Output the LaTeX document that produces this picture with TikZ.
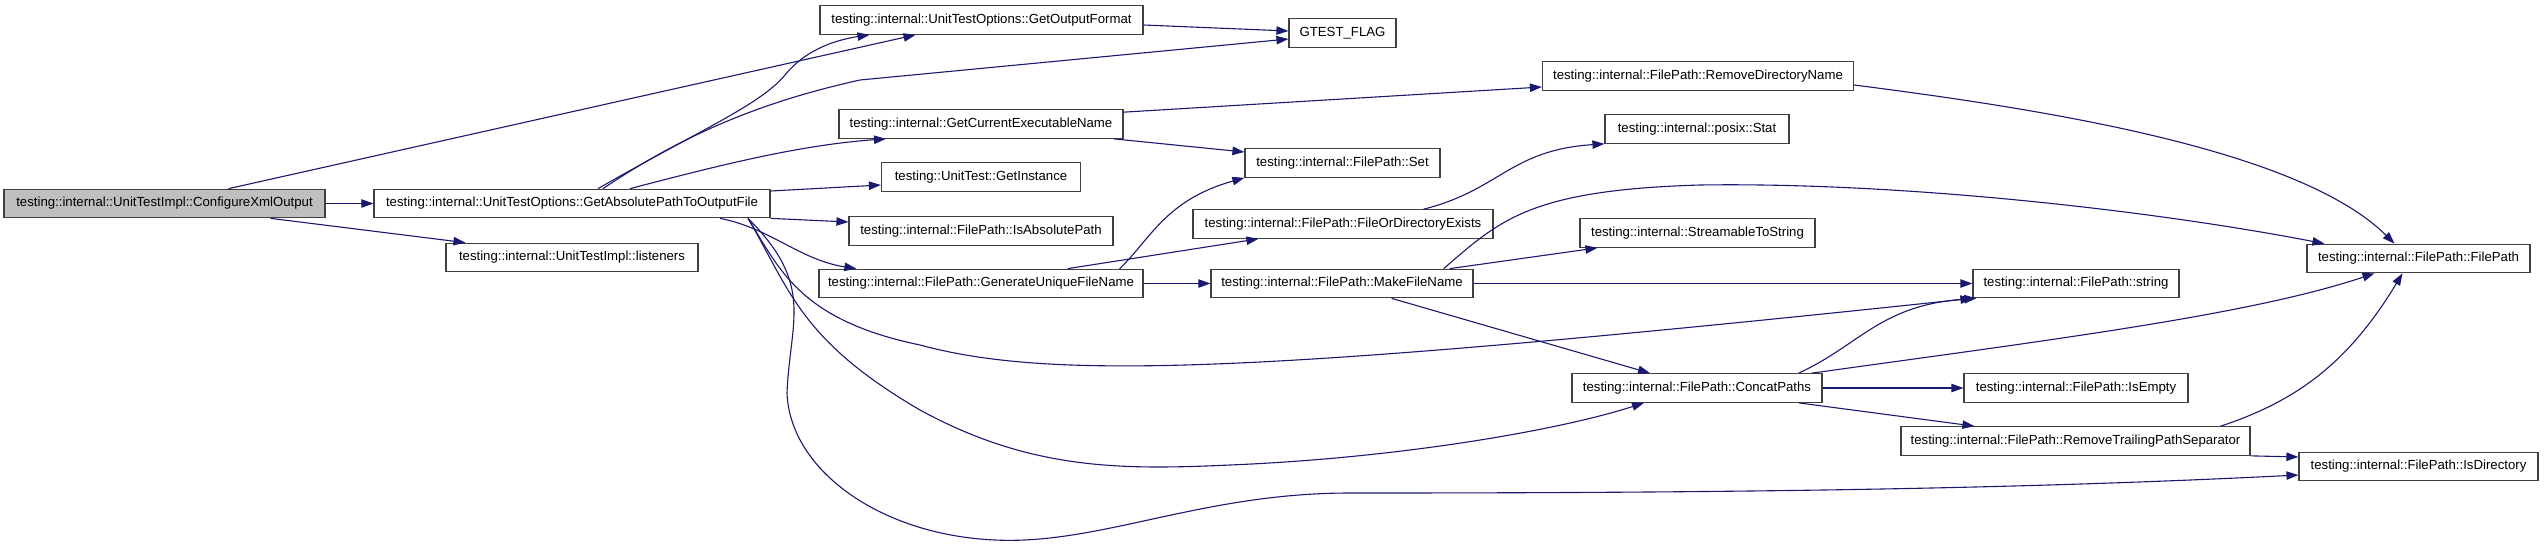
\documentclass[tikz,border=0pt]{standalone}
\usepackage{fontspec}
\setmainfont{Liberation Sans}
\usepackage{xcolor}
\usepackage{tikz}
\usetikzlibrary{arrows.meta}

\definecolor{edgeblue}{HTML}{191970}
\definecolor{rootgray}{HTML}{BFBFBF}

\begin{document}
\begin{tikzpicture}[
  x=0.5pt, y=-0.5pt,
  % Function box styles
  fnbox/.style={
    rectangle,
    draw=black!75,
    fill=white,
    line width=0.6pt,
    minimum width=#1*0.5pt,
    minimum height=14.25pt,
    inner sep=0pt,
    font=\fontsize{6.6pt}{8pt}\selectfont
  },
  rootbox/.style={fnbox=#1, fill=rootgray},
  % Call arrow style
  call/.style={
    ->,
    >={Triangle[length=6pt, width=4.2pt]},
    line width=0.55pt,
    draw=edgeblue
  }
]
\useasboundingbox[fill=white] (0,0) rectangle (2544,547);

% === NODES ===
\node[rootbox=321] (cxo) at (164.5,203.5) {testing::internal::UnitTestImpl::ConfigureXmlOutput};

\node[fnbox=396] (ga) at (572,203.5) {testing::internal::UnitTestOptions::GetAbsolutePathToOutputFile};
\node[fnbox=252] (lis) at (572,257.5) {testing::internal::UnitTestImpl::listeners};

\node[fnbox=323] (gof) at (981.5,20) {testing::internal::UnitTestOptions::GetOutputFormat};
\node[fnbox=284] (gce) at (981,124) {testing::internal::GetCurrentExecutableName};
\node[fnbox=199] (gi) at (981,177) {testing::UnitTest::GetInstance};
\node[fnbox=264] (iap) at (981,231) {testing::internal::FilePath::IsAbsolutePath};
\node[fnbox=324] (gufn) at (981,283.5) {testing::internal::FilePath::GenerateUniqueFileName};

\node[fnbox=107] (gf) at (1342.5,33) {GTEST\_FLAG};
\node[fnbox=195] (fset) at (1342.5,163) {testing::internal::FilePath::Set};
\node[fnbox=300] (fode) at (1343,224) {testing::internal::FilePath::FileOrDirectoryExists};
\node[fnbox=262] (mfn) at (1342,283.5) {testing::internal::FilePath::MakeFileName};

\node[fnbox=311] (rdn) at (1698,76) {testing::internal::FilePath::RemoveDirectoryName};
\node[fnbox=184] (stat) at (1697,129) {testing::internal::posix::Stat};
\node[fnbox=235] (ssts) at (1697.5,233) {testing::internal::StreamableToString};
\node[fnbox=250] (cp) at (1697,388) {testing::internal::FilePath::ConcatPaths};

\node[fnbox=206] (fstr) at (2076,283.5) {testing::internal::FilePath::string};
\node[fnbox=224] (ie) at (2076,388) {testing::internal::FilePath::IsEmpty};
\node[fnbox=349] (rtps) at (2075.5,441) {testing::internal::FilePath::RemoveTrailingPathSeparator};

\node[fnbox=223] (fp) at (2418.5,258.5) {testing::internal::FilePath::FilePath};
\node[fnbox=239] (isd) at (2418.5,466.5) {testing::internal::FilePath::IsDirectory};

% === ARROWS ===
% ConfigureXmlOutput
\draw[call] ([xshift=32pt]cxo.north) -- ([xshift=-33pt]gof.south);
\draw[call] (cxo) -- (ga);
\draw[call] ([xshift=53pt]cxo.south) -- ([xshift=10pt]lis.north west);

% GetAbsolutePathToOutputFile
\draw[call] ([xshift=13pt]ga.north) .. controls (700,130) and (760,105) .. (785,75)
  .. controls (805,50) and (835,40) .. ([xshift=-56pt]gof.south);
\draw[call] ([xshift=15.5pt]ga.north) .. controls (690,130) and (770,100) .. (860,80) -- ([yshift=-3pt]gf.west);
\draw[call] ([xshift=29pt]ga.north) .. controls (720,165) and (800,145) .. ([xshift=-47.5pt]gce.south);
\draw[call] ([yshift=6.25pt]ga.east) -- ([yshift=-4pt]gi.west);
\draw[call] (ga.south east) -- ([yshift=4.5pt]iap.west);
\draw[call] ([xshift=74pt]ga.south) .. controls (770,228) and (800,260) .. ([xshift=19pt]gufn.north west);
\draw[call] ([xshift=88pt]ga.south) .. controls (780,270) and (800,320) .. (920,345)
  .. controls (1050,380) and (1250,375) .. (fstr.south west);
\draw[call] ([xshift=88pt]ga.south) .. controls (790,290) and (800,340) .. (920,410)
  .. controls (1030,470) and (1120,470) .. (1230,465)
  .. controls (1400,458) and (1560,430) .. ([xshift=-26.5pt]cp.south);
\draw[call] ([xshift=88pt]ga.south) .. controls (815,285) and (790,320) .. (787,393)
  .. controls (790,470) and (880,535) .. (995,540)
  .. controls (1100,545) and (1200,493) .. (1350,493)
  .. controls (1700,493) and (2000,490) .. ([yshift=-4.25pt]isd.west);

% GetOutputFormat
\draw[call] ([yshift=-2.5pt]gof.east) -- ([yshift=1pt]gf.west);

% GetCurrentExecutableName
\draw[call] ([yshift=-1.5pt]gce.north east) -- ([yshift=-5.5pt]rdn.west);
\draw[call] ([xshift=-5pt]gce.south east) -- ([yshift=5.5pt]fset.west);

% GenerateUniqueFileName
\draw[call] ([xshift=-12pt]gufn.north east) .. controls (1150,240) and (1165,200) .. (fset.south west);
\draw[call] ([xshift=-38pt]gufn.north east) -- ([xshift=33pt]fode.south west);
\draw[call] (gufn) -- (mfn);

% FileOrDirectoryExists
\draw[call] ([xshift=-35pt]fode.north east) .. controls (1500,190) and (1510,150) .. (stat.south west);

% MakeFileName
\draw[call] ([xshift=-15pt]mfn.north east) .. controls (1500,220) and (1530,190) .. (1700,185)
  .. controls (1900,182) and (2150,210) .. ([xshift=9pt]fp.north west);
\draw[call] ([xshift=-12pt]mfn.north east) -- ([xshift=9pt]ssts.south west);
\draw[call] (mfn) -- (fstr);
\draw[call] ([xshift=-41pt]mfn.south east) -- ([xshift=-23.5pt]cp.north);

% RemoveDirectoryName
\draw[call] ([yshift=-4.5pt]rdn.east) .. controls (2050,110) and (2300,150) .. ([xshift=-12pt]fp.north);

% ConcatPaths
\draw[call] ([xshift=-12pt]cp.north east) .. controls (1860,345) and (1880,305) .. ([xshift=2pt]fstr.south west);
\draw[call] ([xshift=-5.5pt]cp.north east) .. controls (2050,340) and (2250,315) .. ([xshift=-22pt]fp.south);
\draw[call] (cp) -- (ie);
\draw[call] ([xshift=-12pt]cp.south east) -- ([xshift=37pt]rtps.north west);

% RemoveTrailingPathSeparator
\draw[call] ([xshift=-15pt]rtps.north east) .. controls (2300,400) and (2350,360) .. ([xshift=-8pt]fp.south);
\draw[call] (rtps.south east) -- ([yshift=4.75pt]isd.west);

\end{tikzpicture}
\end{document}
